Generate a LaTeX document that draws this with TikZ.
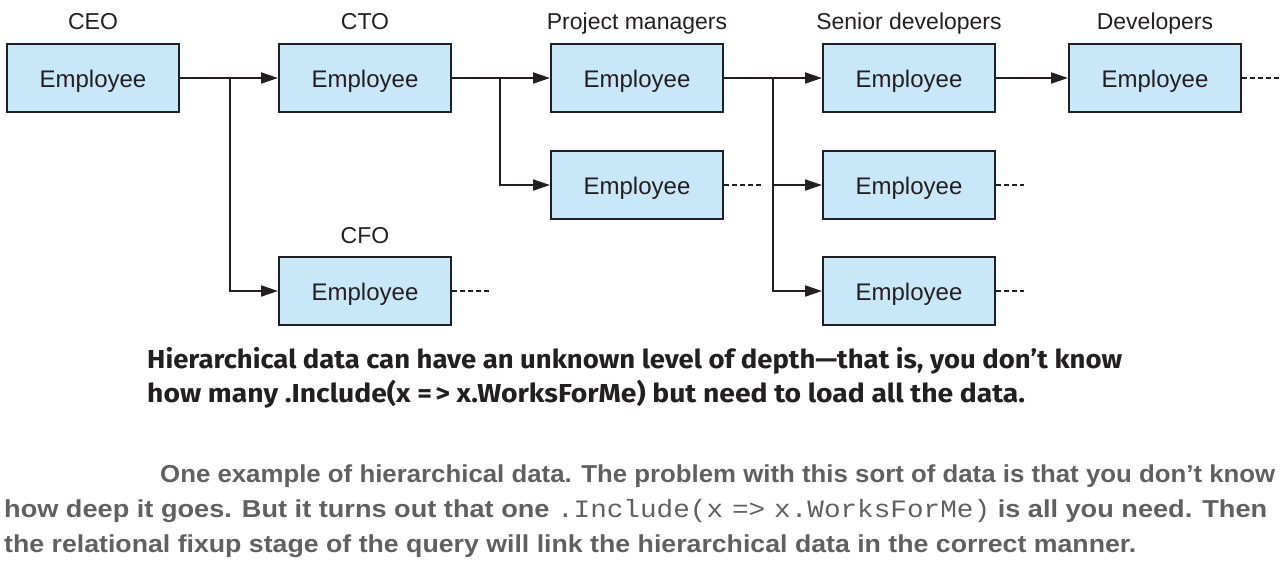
\documentclass[tikz,border=0pt]{standalone}
\usepackage{fontspec}
\usepackage{graphicx}
\setmainfont{Liberation Sans}
\newfontfamily\capfont{Fira Sans}
\newfontfamily\notefont{Liberation Sans}
\newfontfamily\codefont{Liberation Mono}
\usetikzlibrary{arrows.meta}
\definecolor{boxfill}{HTML}{C8E8FA}
\definecolor{ink}{HTML}{231F20}
\definecolor{notegray}{HTML}{606060}
\tikzset{
  emp/.style={draw=ink, fill=boxfill, line width=2pt, minimum width=172pt, minimum height=68pt,
    inner sep=0pt, text height=18pt, text depth=0pt, font=\fontsize{24}{28}\selectfont, text=ink},
  role/.style={anchor=base, inner sep=0pt, font=\fontsize{23}{27}\selectfont, text=ink},
  conn/.style={draw=ink, line width=2pt},
  arr/.style={conn, -{Triangle[length=17pt,width=11pt]}},
  more/.style={draw=ink, line width=1.8pt, dash pattern=on 5pt off 3pt},
  capline/.style={anchor=base west, inner sep=0pt, text=ink, font=\fontsize{26}{30}\capfont\bfseries},
  noteline/.style={anchor=base west, inner sep=0pt, text=notegray, font=\fontsize{24.5}{28}\notefont\bfseries}
}
\begin{document}
\begin{tikzpicture}[x=1pt,y=-1pt]
\useasboundingbox (0,0) rectangle (1288,560);
% boxes
\node[emp] (ceo) at (93,78) {Employee};
\node[emp] (cto) at (365,78) {Employee};
\node[emp] (cfo) at (365,291) {Employee};
\node[emp] (pm1) at (637,78) {Employee};
\node[emp] (pm2) at (637,185) {Employee};
\node[emp] (sd1) at (909,78) {Employee};
\node[emp] (sd2) at (909,185) {Employee};
\node[emp] (sd3) at (909,291) {Employee};
\node[emp] (dev) at (1155,78) {Employee};
% role labels
\node[role] (lceo) at (93,29) {CEO};
\node[role] (lcto) at (365,29) {CTO};
\node[role] (lpm) at (637,29) {Project managers};
\node[role] (lsd) at (909,29) {Senior developers};
\node[role] (ldev) at (1155,29) {Developers};
\node[role] (lcfo) at (365,243) {CFO};
% branch points
\coordinate (b1) at (230,78);
\coordinate (b2) at (500,78);
\coordinate (b3) at (773,78);
% connectors
\draw[arr] (ceo.east) -- (cto.west);
\draw[arr] (b1) |- (cfo.west);
\draw[arr] (cto.east) -- (pm1.west);
\draw[arr] (b2) |- (pm2.west);
\draw[arr] (pm1.east) -- (sd1.west);
\draw[arr] (b3) |- (sd2.west);
\draw[arr] (b3) |- (sd3.west);
\draw[arr] (sd1.east) -- (dev.west);
% continuation ends
\coordinate (ecfo) at (489,291);
\coordinate (epm2) at (762,185);
\coordinate (esd2) at (1024,185);
\coordinate (esd3) at (1024,291);
\coordinate (edev) at (1280,78);
\draw[more] (cfo.east) -- (ecfo);
\draw[more] (pm2.east) -- (epm2);
\draw[more] (sd2.east) -- (esd2);
\draw[more] (sd3.east) -- (esd3);
\draw[more] (dev.east) -- (edev);
% caption
\node[capline] (cap1) at (147,368) {\resizebox{975pt}{\height}{Hierarchical data can have an unknown level of depth—that is, you don’t know}};
\node[capline] (cap2) at (147,402) {\resizebox{878pt}{\height}{how many .Include(x =\kern3pt> x.WorksForMe) but need to load all the data.}};
% note
\node[noteline] (n1) at (160,482) {\resizebox{1115pt}{\height}{One example of hierarchical data. The problem with this sort of data is that you don’t know}};
\node[noteline] (n2) at (4,517) {\resizebox{1263pt}{\height}{how deep it goes. But it turns out that one {\codefont\mdseries\fontsize{25}{28}\selectfont .Include(x\kern8pt=>\kern8pt x.WorksForMe)} is all you need. Then}};
\node[noteline] (n3) at (4,552) {\resizebox{1132pt}{\height}{the relational fixup stage of the query will link the hierarchical data in the correct manner.}};
\end{tikzpicture}
\end{document}
